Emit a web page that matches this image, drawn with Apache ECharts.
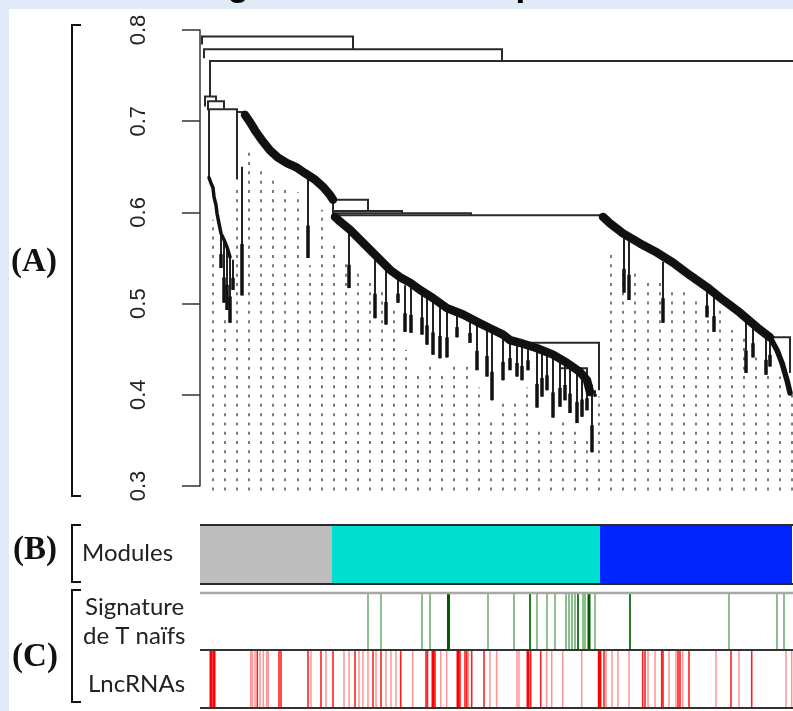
<!DOCTYPE html>
<html><head><meta charset="utf-8">
<script src="https://cdn.jsdelivr.net/npm/echarts@6/dist/echarts.min.js"></script>
<style>
html,body{margin:0;padding:0;background:#dfeaf6;}
#panel{position:absolute;left:9px;top:9px;width:784px;height:702px;background:#fff;}
#c{position:absolute;left:0;top:0;width:793px;height:711px;}
</style>
</head><body><div id="panel"></div><div id="c"></div>
<script>
// ---------- Dendrogram data (x = position along leaf order, height = dissimilarity) ----------
var yTicks = [0.3, 0.4, 0.5, 0.6, 0.7, 0.8];
// merges: [x left child, x right child, merge height, left child height, right child height]
var links = [
  [2, 153, 0.793, 0.784, 0.779],
  [4, 302, 0.779, 0.769, 0.766],
  [10, 594, 0.766, 0.727, 0.597],
  [5, 16, 0.727, 0.716, 0.722],
  [8, 24, 0.722, 0.712, 0.713],
  [9, 37, 0.713, 0.638, 0.710],
  [37, 45, 0.710, 0.636, 0.707],
  [133, 168, 0.614, 0.597, 0.6015],
  [133, 202, 0.6015, 0.597, 0.599],
  [133, 271, 0.599, 0.597, 0.597],
  [133, 403, 0.597, 0.595, 0.595],
  [310, 399, 0.457, 0.455, 0.405],
  [360, 387, 0.429, 0.425, 0.405],
  [570, 590, 0.463, 0.460, 0.424]
];
// dense chained merges (staircases)
var greyChain = [[45,0.707],[50,0.699],[55,0.690],[62,0.679],[70,0.668],[78,0.660],[87,0.654],[97,0.649],[105,0.643],[115,0.636],[123,0.628],[130,0.619],[133,0.614]];
var turquoiseChain = [[135,0.595],[140,0.590],[150,0.581],[160,0.570],[170,0.559],[180,0.548],[190,0.537],[200,0.529],[210,0.523],[220,0.515],[233,0.506],[247,0.495],[263,0.488],[277,0.480],[290,0.473],[303,0.466],[310,0.460],[320,0.457],[337,0.451],[353,0.444],[367,0.435],[380,0.425],[387,0.416],[390,0.403]];
var blueChain = [[403,0.595],[410,0.588],[423,0.577],[440,0.566],[457,0.556],[473,0.545],[490,0.531],[507,0.518],[523,0.504],[540,0.490],[557,0.474],[570,0.463]];
var blueTail = [[570,0.463],[577,0.449],[582,0.435],[587,0.416],[590,0.402]];
var greyLeftChain = [[9,0.638],[11,0.632],[13,0.627],[14,0.617],[16,0.608],[17,0.599],[19,0.588],[21,0.577],[24,0.570],[27,0.562],[30,0.551]];
// hanging sub-branches: [x, top height, bottom height]
var drops = [
  [21,0.577,0.539],[24,0.570,0.501],[27,0.562,0.493],[30,0.551,0.479],[33,0.548,0.515],
  [42,0.650,0.509],[108,0.639,0.550],
  [149,0.581,0.517],[175,0.551,0.484],[186,0.539,0.477],[198,0.526,0.501],[205,0.520,0.469],
  [211,0.517,0.468],[222,0.513,0.466],[227,0.508,0.455],[233,0.505,0.444],[240,0.501,0.440],
  [247,0.496,0.441],[257,0.491,0.463],[270,0.484,0.457],[277,0.480,0.427],[287,0.476,0.420],
  [292,0.472,0.394],[303,0.466,0.416],[310,0.460,0.427],[317,0.457,0.420],[322,0.455,0.416],
  [328,0.454,0.427],[337,0.451,0.386],[342,0.449,0.398],[347,0.446,0.405],[353,0.444,0.375],
  [360,0.438,0.387],[365,0.436,0.394],[370,0.433,0.380],[377,0.427,0.369],[382,0.423,0.376],
  [387,0.416,0.383],[392,0.411,0.337],[395,0.405,0.398],
  [424,0.577,0.512],[429,0.573,0.504],[463,0.546,0.479],[507,0.517,0.485],[514,0.512,0.469],
  [546,0.485,0.424],[553,0.480,0.441],[566,0.463,0.422],[570,0.463,0.431]
];
// leaf columns (dotted) : position and leaf top height
var leafCols = [13,25,37,49,61,73,85,98,110,122,134,146,158,170,182,194,206,218,230,242,254,267,279,291,303,315,327,339,351,363,375,387,399,411,423,435,448,460,472,484,496,508,520,532,544,556,568,580,592];
var leafTops = [0.592,0.482,0.625,0.668,0.647,0.636,0.627,0.622,0.542,0.603,0.570,0.548,0.537,0.526,0.515,0.495,0.449,0.427,0.438,0.427,0.438,0.438,0.408,0.375,0.397,0.394,0.408,0.365,0.365,0.372,0.365,0.354,0.398,0.559,0.537,0.537,0.526,0.526,0.515,0.515,0.504,0.493,0.493,0.471,0.463,0.441,0.427,0.420,0.402];
var leafBottom = 0.295;

// ---------- Colour rows ----------
var moduleNames = ['grey', 'turquoise', 'blue'];
var moduleStart = [0, 132, 400];
var moduleEnd = [132, 400, 592];
var signaturePos = [168,181,222,230,248.5,288,314,330,337,347,355,366,369,372,375,378,383,385,389,395,430,529,577,584];
var signatureCount = [1,1,1,1,3,1,1,2,1,1,1,1,1,1,1,2,1,1,3,1,2,1,1,1];
var lncPos = [11,14, 50.7,52.3,55,57.3,60,63.3,66.7,68.3, 79,81, 108,111, 121,126, 133, 144,149, 155,159,163,168, 173,176, 181,186,191,196, 200.7, 212.7, 226,227.5,233,235, 240.7,246.7, 258,260,265,266.7,268.3,271.7, 284,290,296.7, 317,319, 328,330.7, 340.7,346.7,351.7, 362.7, 381.7, 399.3,400.7,404,406, 412,418, 429, 442.7,445,448, 455, 461.7,463, 469, 476,478,480,482.7, 489, 516, 531, 539, 551.7, 586, 591.7];
var lncCount = [3,3, 1,1,1,2,1,1,1,1, 2,2, 2,1, 2,1, 2, 1,1, 2,1,1,1, 2,1, 2,1,1,1, 2, 1, 2,2,3,2, 1,1, 3,2,2,2,1,2, 2,1,1, 1,1, 3,2, 2,1,1, 1, 1, 3,2,2,1, 1,1, 1, 2,2,1, 1, 2,2, 1, 1,2,2,1, 2, 1, 2, 1, 2, 1, 1];

// ---------- styles ----------
var moduleColor = {grey:'#bebebe', turquoise:'#00e0d0', blue:'#0026ff'};
var greenStyle = {1:['rgba(0,110,0,0.6)',1.5], 2:['#0b6e0b',1.8], 3:['#005a00',3]};
var redStyle = {1:['rgba(255,0,0,0.42)',1.5], 2:['rgba(255,0,0,0.88)',1.6], 3:['#ff0000',3]};

var chart = echarts.init(document.getElementById('c'), null, {renderer:'canvas'});
var XMAX = 593;
function xAx(i){ return {type:'value', gridIndex:i, min:0, max:XMAX, show:false}; }
function yAx01(i){ return {type:'value', gridIndex:i, min:0, max:1, show:false}; }

function stripe(posArr, cntArr, styleMap){
  return function(params, api){
    var i = params.dataIndex;
    var cs = params.coordSys;
    var p = api.coord([posArr[i], 0]);
    var st = styleMap[cntArr[i]];
    return {type:'rect', shape:{x:p[0]-st[1]/2, y:cs.y, width:st[1], height:cs.height}, style:{fill:st[0]}};
  };
}
function frame(topColor, topW, botColor, botW){
  return function(params, api){
    var cs = params.coordSys;
    var a = api.coord([0,0]), b = api.coord([XMAX,0]);
    var ch = [];
    if (topColor) ch.push({type:'line', shape:{x1:a[0], y1:cs.y, x2:b[0], y2:cs.y}, style:{stroke:topColor, lineWidth:topW}});
    if (botColor) ch.push({type:'line', shape:{x1:a[0], y1:cs.y+cs.height, x2:b[0], y2:cs.y+cs.height}, style:{stroke:botColor, lineWidth:botW}});
    return {type:'group', children:ch};
  };
}
function chainSeries(data, w, z){
  return {type:'line', xAxisIndex:0, yAxisIndex:0, data:data, symbol:'none', silent:true, clip:false, z:z,
    lineStyle:{color:'#111', width:w, cap:'round', join:'round'}};
}

var option = {
  animation:false,
  backgroundColor:'transparent',
  grid:[
    {left:200, top:30, width:XMAX, height:456, containLabel:false, outerBoundsMode:'none'},
    {left:200, top:525, width:XMAX, height:59, containLabel:false, outerBoundsMode:'none'},
    {left:200, top:593, width:XMAX, height:57, containLabel:false, outerBoundsMode:'none'},
    {left:200, top:650, width:XMAX, height:58, containLabel:false, outerBoundsMode:'none'}
  ],
  xAxis:[xAx(0), xAx(1), xAx(2), xAx(3)],
  yAxis:[
    {type:'value', gridIndex:0, min:yTicks[0], max:yTicks[yTicks.length-1], interval:0.1, position:'left', offset:22,
      axisLine:{show:true, lineStyle:{color:'#333', width:1.5}},
      axisTick:{show:true, inside:false, length:18, lineStyle:{color:'#333', width:1.5}},
      axisLabel:{show:true, rotate:90, margin:28, fontSize:22, color:'#222', fontFamily:'"Liberation Sans", Arial, sans-serif',
        formatter:function(v){ return v.toFixed(1); }},
      splitLine:{show:false}},
    yAx01(1), yAx01(2), yAx01(3)
  ],
  graphic:[
    {type:'text', x:105, y:-14, z:10, style:{text:'Dendrogramme de co-expression', font:'bold 35px "Liberation Sans"', fill:'#000', verticalAlign:'middle'}},
    {type:'text', x:34, y:262, style:{text:'(A)', font:'bold 33px "Liberation Serif"', fill:'#111', align:'center', verticalAlign:'middle'}},
    {type:'text', x:35, y:550, style:{text:'(B)', font:'bold 33px "Liberation Serif"', fill:'#111', align:'center', verticalAlign:'middle'}},
    {type:'text', x:35, y:657, style:{text:'(C)', font:'bold 33px "Liberation Serif"', fill:'#111', align:'center', verticalAlign:'middle'}},
    {type:'polyline', shape:{points:[[81,25],[72,25],[72,496],[81,496]]}, style:{stroke:'#111', lineWidth:2, fill:null}},
    {type:'polyline', shape:{points:[[81,525],[72,525],[72,582],[81,582]]}, style:{stroke:'#111', lineWidth:2, fill:null}},
    {type:'polyline', shape:{points:[[81,590],[72,590],[72,702],[81,702]]}, style:{stroke:'#111', lineWidth:2, fill:null}},
    {type:'text', x:82, y:553, style:{text:'Modules', font:'24px Lato', fill:'#222', verticalAlign:'middle'}},
    {type:'text', x:85, y:607, style:{text:'Signature', font:'24px Lato', fill:'#222', verticalAlign:'middle'}},
    {type:'text', x:83, y:636, style:{text:'de T naïfs', font:'24px Lato', fill:'#222', verticalAlign:'middle'}},
    {type:'text', x:88, y:684, style:{text:'LncRNAs', font:'24px Lato', fill:'#222', verticalAlign:'middle'}}
  ],
  series:[
    // dotted leaf columns
    {type:'custom', xAxisIndex:0, yAxisIndex:0, silent:true, clip:false, z:1,
      data: leafCols.map(function(x,i){ return [x, leafTops[i]]; }),
      renderItem:function(params, api){
        var p1 = api.coord([api.value(0), leafBottom]);
        var p2 = api.coord([api.value(0), api.value(1)]);
        return {type:'line', shape:{x1:p1[0], y1:p1[1], x2:p2[0], y2:p2[1]}, style:{stroke:'#646464', lineWidth:1.7, lineDash:[3,6.3]}};
      }},
    // merge links
    {type:'custom', xAxisIndex:0, yAxisIndex:0, silent:true, clip:false, z:3,
      data: links,
      renderItem:function(params, api){
        var l = links[params.dataIndex];
        var pts = [api.coord([l[0], l[3]]), api.coord([l[0], l[2]]), api.coord([l[1], l[2]]), api.coord([l[1], l[4]])];
        return {type:'polyline', shape:{points:pts}, style:{stroke:'#2a2a2a', lineWidth:2, fill:'none'}};
      }},
    // hanging sub-branches
    {type:'custom', xAxisIndex:0, yAxisIndex:0, silent:true, clip:false, z:3,
      data: drops,
      renderItem:function(params, api){
        var d = drops[params.dataIndex];
        var t = api.coord([d[0], d[1]]), b = api.coord([d[0], d[2]]);
        var mid = b[1] - (b[1]-t[1])*0.4;
        return {type:'group', children:[
          {type:'line', shape:{x1:t[0], y1:t[1], x2:b[0], y2:b[1]}, style:{stroke:'#222', lineWidth:2}},
          {type:'line', shape:{x1:t[0], y1:mid, x2:b[0], y2:b[1]}, style:{stroke:'#111', lineWidth:3.5}}
        ]};
      }},
    chainSeries(greyChain, 8.5, 4),
    chainSeries(turquoiseChain, 8.5, 4),
    chainSeries(blueChain, 8.5, 4),
    chainSeries(blueTail, 5.5, 4),
    chainSeries(greyLeftChain, 3.5, 4),
    // module colours
    {type:'custom', xAxisIndex:1, yAxisIndex:1, silent:true, z:2,
      data: moduleNames.map(function(n,i){ return [moduleStart[i], moduleEnd[i]]; }),
      renderItem:function(params, api){
        var i = params.dataIndex, cs = params.coordSys;
        var a = api.coord([moduleStart[i], 0]), b = api.coord([moduleEnd[i], 0]);
        return {type:'rect', shape:{x:a[0], y:cs.y, width:b[0]-a[0], height:cs.height}, style:{fill:moduleColor[moduleNames[i]]}};
      }},
    {type:'custom', xAxisIndex:1, yAxisIndex:1, silent:true, z:3, data:[[0]], renderItem:frame('#2a2a2a',2,'#2a2a2a',2)},
    // signature
    {type:'custom', xAxisIndex:2, yAxisIndex:2, silent:true, z:2,
      data: signaturePos.map(function(x,i){ return [x, signatureCount[i]]; }),
      renderItem: stripe(signaturePos, signatureCount, greenStyle)},
    {type:'custom', xAxisIndex:2, yAxisIndex:2, silent:true, z:3, data:[[0]], renderItem:frame('#a8a8a8',2.5,null,0)},
    // lncRNAs
    {type:'custom', xAxisIndex:3, yAxisIndex:3, silent:true, z:2,
      data: lncPos.map(function(x,i){ return [x, lncCount[i]]; }),
      renderItem: stripe(lncPos, lncCount, redStyle)},
    {type:'custom', xAxisIndex:3, yAxisIndex:3, silent:true, z:3, data:[[0]], renderItem:frame('#333',2,'#333',2)}
  ]
};
chart.setOption(option);
</script></body></html>
